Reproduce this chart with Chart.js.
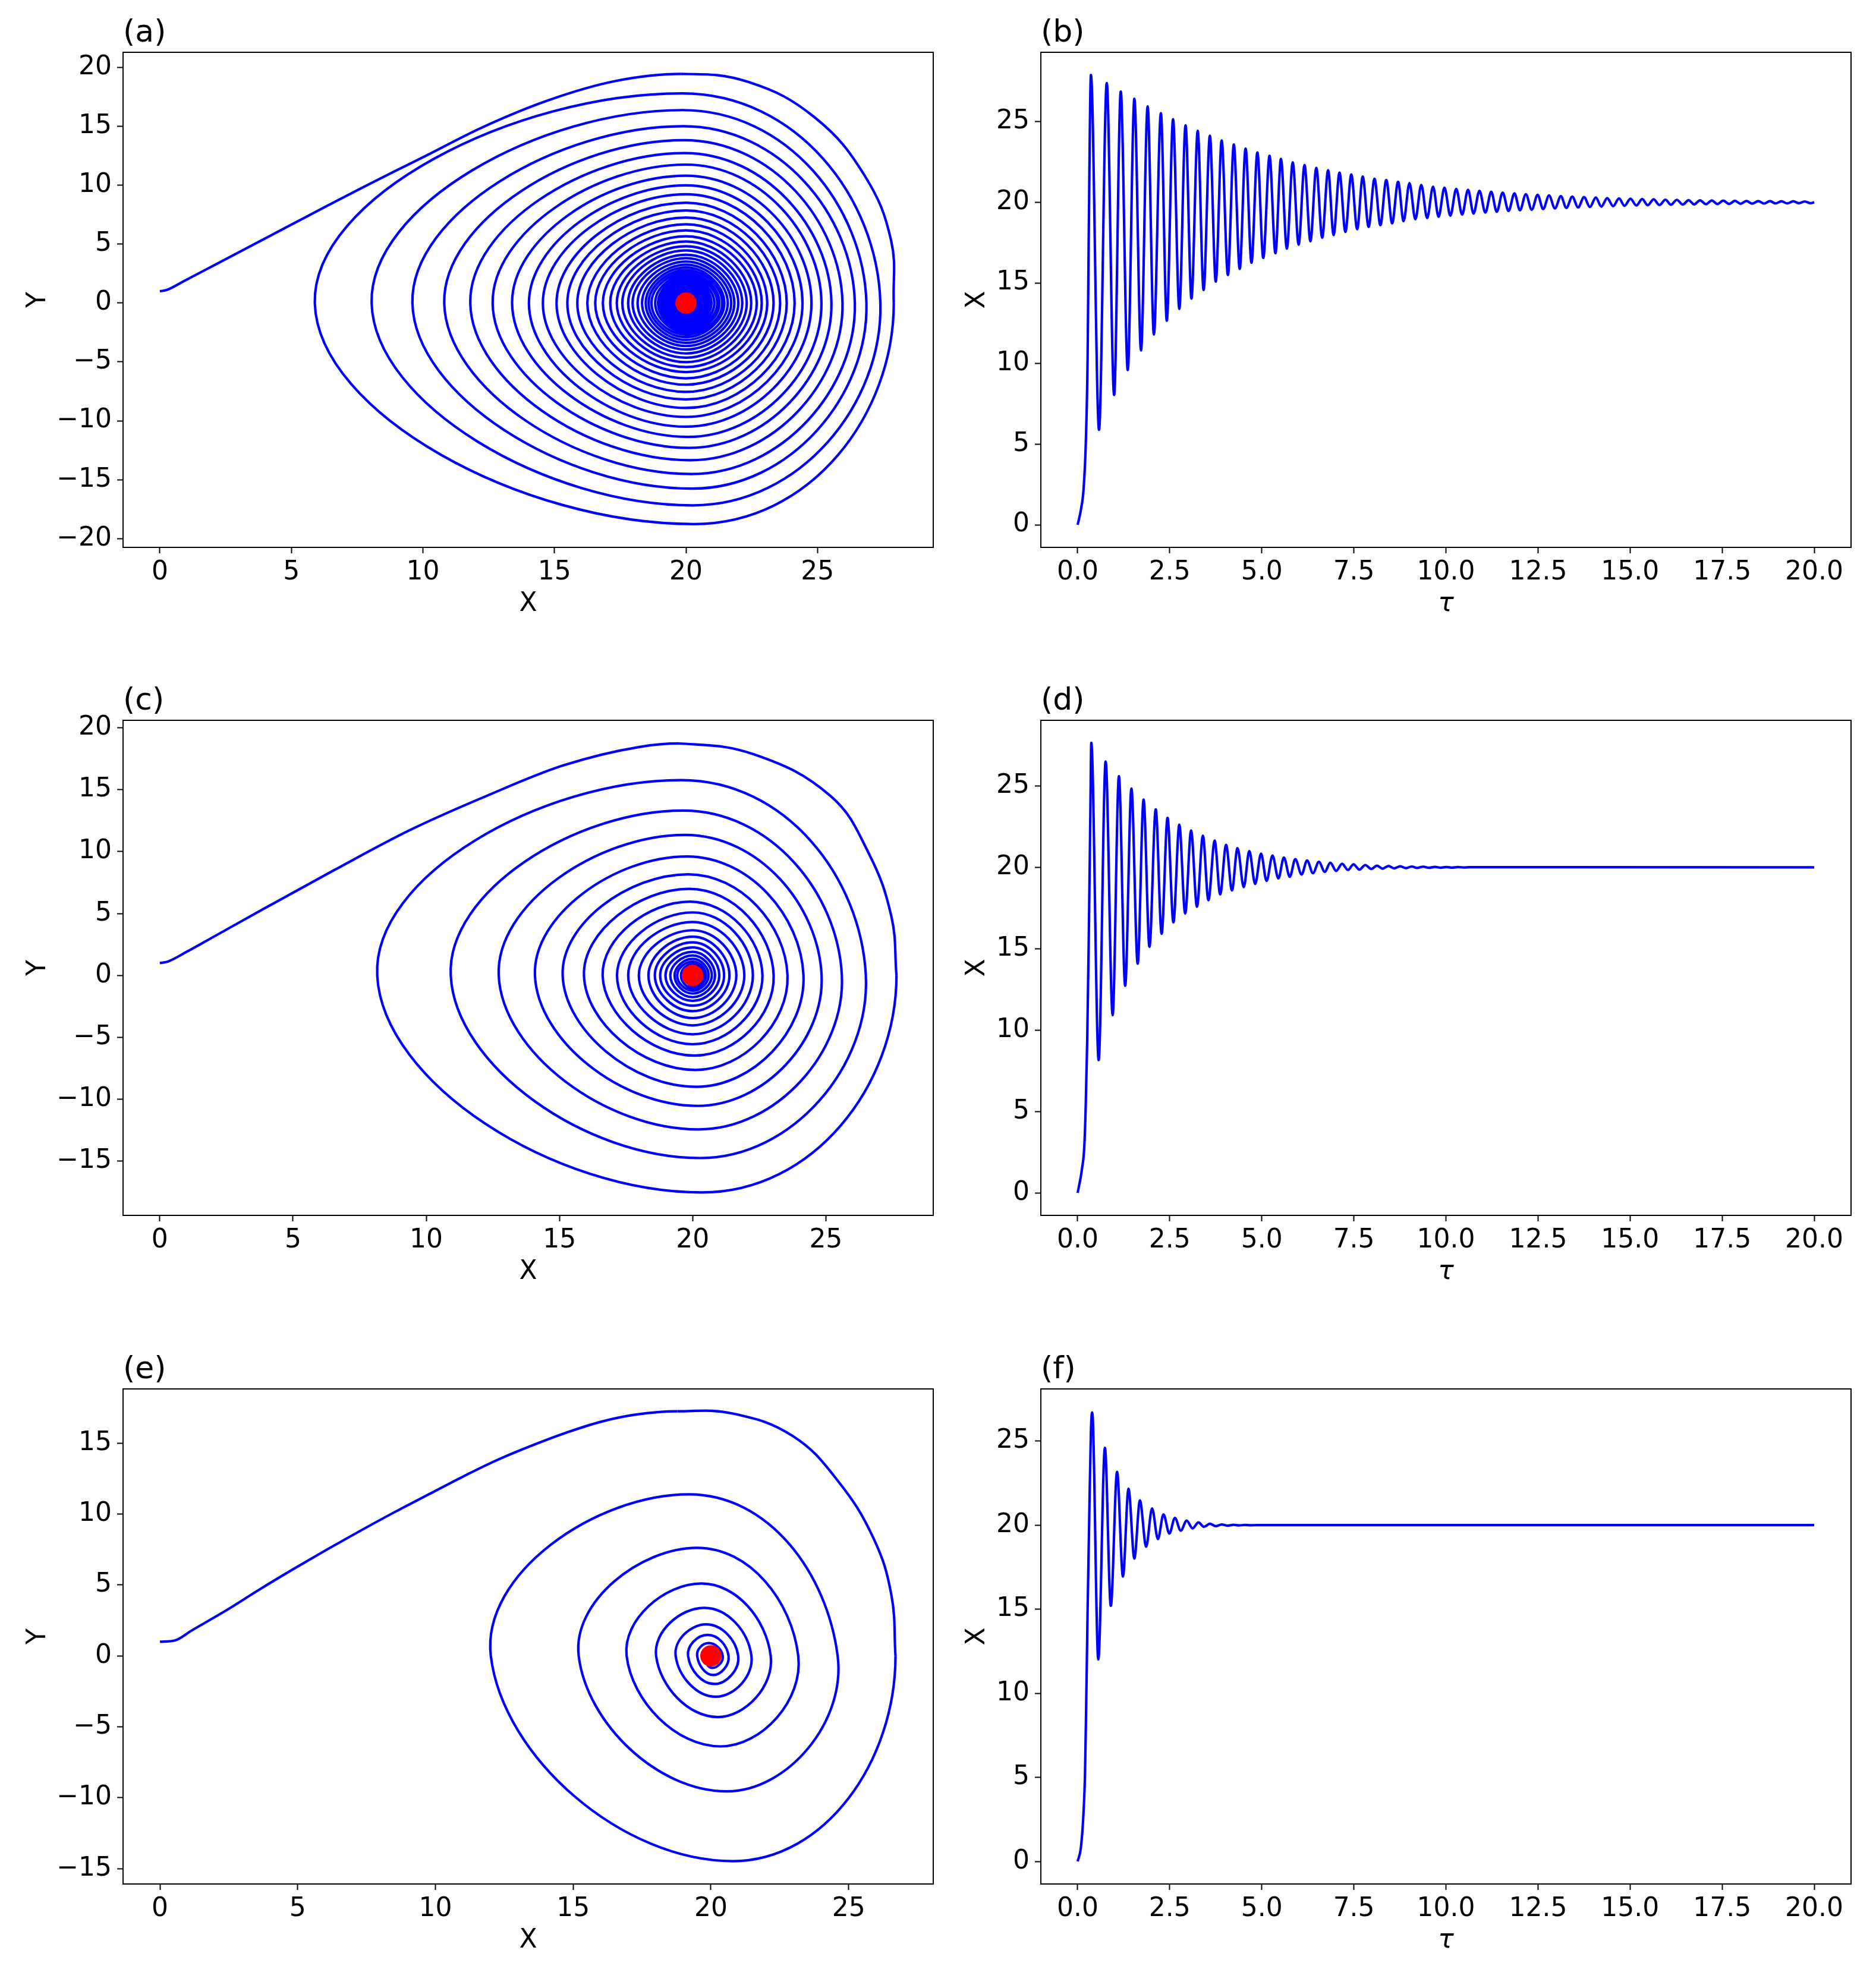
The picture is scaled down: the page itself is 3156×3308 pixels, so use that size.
<!DOCTYPE html>
<html>
<head>
<meta charset="utf-8">
<script src="https://cdn.jsdelivr.net/npm/chart.js@4.4.1/dist/chart.umd.min.js"></script>
<style>
html, body { margin: 0; padding: 0; background: #fff; }
#fig { position: relative; width: 3156px; height: 3308px; background: #fff; overflow: hidden; }
#fig canvas { position: absolute; }
</style>
</head>
<body>
<div id="fig"></div>
<script>
// Datos
const fixedPoint = [20, 0]
const tauEnd = 20

// tick labels
const phaseTicksX = [0, 5, 10, 15, 20, 25]
const phaseTicksYa = [-20, -15, -10, -5, 0, 5, 10, 15, 20]
const phaseTicksYc = [-15, -10, -5, 0, 5, 10, 15, 20]
const phaseTicksYe = [-15, -10, -5, 0, 5, 10, 15]
const tauTicks = [0, 2.5, 5, 7.5, 10, 12.5, 15, 17.5, 20]
const seriesTicksY = [0, 5, 10, 15, 20, 25]

// ---- corrida 1: paneles (a) y (b) ----
const riseTau1 = [0, 0.09, 0.16, 0.22, 0.27, 0.30]
const riseX1 = [0, 0.95, 2.2, 5.0, 10.3, 17.7]
const peakTau1 = [0.36, 0.79, 1.17, 1.54, 1.90, 2.26, 2.59, 2.93, 3.26, 3.59, 3.91, 4.24, 4.56, 4.88, 5.21, 5.52, 5.84, 6.16, 6.48, 6.80, 7.11, 7.43, 7.74, 8.06, 8.38, 8.70, 9.01, 9.33, 9.65, 9.96, 10.28, 10.60, 10.91, 11.23, 11.54, 11.86, 12.17, 12.49, 12.80, 13.12, 13.43, 13.75, 14.07, 14.38, 14.70, 15.01, 15.33, 15.64, 15.96, 16.27, 16.59, 16.90, 17.22, 17.53, 17.85, 18.16, 18.48, 18.80, 19.11, 19.43, 19.74]
const peakX1 = [27.9, 27.39, 26.86, 26.42, 25.95, 25.53, 25.15, 24.77, 24.43, 24.13, 23.83, 23.58, 23.33, 23.09, 22.88, 22.69, 22.48, 22.31, 22.14, 21.99, 21.84, 21.72, 21.59, 21.46, 21.38, 21.27, 21.19, 21.08, 20.97, 20.90, 20.83, 20.77, 20.71, 20.65, 20.60, 20.55, 20.50, 20.46, 20.42, 20.38, 20.35, 20.32, 20.29, 20.26, 20.24, 20.22, 20.20, 20.18, 20.16, 20.15, 20.13, 20.12, 20.11, 20.10, 20.09, 20.08, 20.07, 20.07, 20.06, 20.06, 20.05]
const troughTau1 = [0.58, 0.99, 1.36, 1.72, 2.07, 2.42, 2.76, 3.09, 3.42, 3.75, 4.08, 4.40, 4.72, 5.04, 5.37, 5.68, 6.00, 6.32, 6.64, 6.95, 7.27, 7.59, 7.90, 8.22, 8.54, 8.85, 9.17, 9.49, 9.80, 10.12, 10.44, 10.75, 11.07, 11.38, 11.70, 12.01, 12.33, 12.64, 12.96, 13.27, 13.59, 13.91, 14.22, 14.54, 14.85, 15.17, 15.48, 15.80, 16.11, 16.43, 16.74, 17.06, 17.37, 17.69, 18.00, 18.32, 18.64, 18.95, 19.27, 19.59, 19.90]
const troughX1 = [5.89, 8.05, 9.60, 10.81, 11.80, 12.65, 13.39, 14.03, 14.56, 15.08, 15.49, 15.87, 16.25, 16.55, 16.84, 17.12, 17.37, 17.58, 17.80, 17.97, 18.16, 18.33, 18.47, 18.58, 18.69, 18.83, 18.94, 19.02, 19.10, 19.17, 19.24, 19.30, 19.36, 19.41, 19.46, 19.50, 19.54, 19.58, 19.62, 19.65, 19.68, 19.71, 19.73, 19.76, 19.78, 19.80, 19.82, 19.83, 19.85, 19.86, 19.87, 19.88, 19.89, 19.90, 19.91, 19.915, 19.92, 19.93, 19.93, 19.94, 19.94]
const startX1 = [0, 0.27, 0.9, 2.05, 3.2, 4.35, 5.5, 6.65, 7.8, 8.95, 10.1, 12.28, 14.8, 17.3, 19.8, 22.38, 24.9, 26.8, 27.8]
const startY1 = [1, 1.12, 1.85, 3.2, 4.55, 5.9, 7.25, 8.6, 9.92, 11.22, 12.5, 14.95, 17.25, 18.85, 19.46, 18.77, 15.76, 10.8, 5.3]
const topY1 = [19.46, 17.81, 16.39, 15.02, 13.84, 12.74, 11.76, 10.82, 10.00, 9.24, 8.52, 7.87, 7.26, 6.69, 6.17, 5.67, 5.23, 4.82, 4.47, 4.11, 3.81, 3.52, 3.26, 3.02, 2.79, 2.58, 2.39, 2.21, 2.04, 1.89, 1.75, 1.62, 1.50, 1.39, 1.28, 1.19, 1.10, 1.02, 0.94, 0.87, 0.80, 0.74]
const topX1 = [19.8, 19.85, 19.87, 19.9, 19.92, 19.94]
const bottomY1 = [-18.77, -17.18, -15.76, -14.52, -13.35, -12.30, -11.37, -10.50, -9.67, -8.91, -8.19, -7.54, -6.93, -6.39, -5.86, -5.44, -5.02, -4.64, -4.28, -3.95, -3.65, -3.38, -3.13, -2.89, -2.67, -2.47, -2.29, -2.12, -1.96, -1.81, -1.68, -1.55, -1.44, -1.33, -1.23, -1.14, -1.05, -0.97, -0.90, -0.83, -0.77, -0.71]
const bottomX1 = [20.3, 20.27, 20.24, 20.2, 20.16, 20.12, 20.08]

// ---- corrida 2: paneles (c) y (d) ----
const riseTau2 = [0, 0.115, 0.18, 0.22, 0.26, 0.30, 0.345]
const riseX2 = [0, 1.44, 2.84, 5.44, 9.44, 15.4, 23.4]
const peakTau2 = [0.37, 0.76, 1.12, 1.46, 1.79, 2.12, 2.44, 2.76, 3.08, 3.40, 3.72, 4.03, 4.34, 4.66, 4.98, 5.29, 5.60, 5.91, 6.23, 6.55, 6.86, 7.18, 7.49, 7.81, 8.13, 8.44, 8.76, 9.07, 9.38, 9.70, 10.01, 10.33, 10.64]
const peakX2 = [27.65, 26.5, 25.6, 24.84, 24.16, 23.56, 23.04, 22.62, 22.26, 21.94, 21.64, 21.38, 21.18, 21.0, 20.84, 20.72, 20.60, 20.50, 20.42, 20.34, 20.28, 20.22, 20.18, 20.14, 20.10, 20.08, 20.06, 20.05, 20.04, 20.03, 20.02, 20.015, 20.01]
const troughTau2 = [0.57, 0.95, 1.29, 1.63, 1.95, 2.28, 2.60, 2.92, 3.24, 3.55, 3.87, 4.19, 4.51, 4.82, 5.13, 5.45, 5.76, 6.08, 6.39, 6.71, 7.02, 7.34, 7.65, 7.97, 8.28, 8.59, 8.91, 9.22, 9.54, 9.85, 10.17, 10.49]
const troughX2 = [8.16, 10.92, 12.72, 14.08, 15.12, 15.92, 16.62, 17.16, 17.58, 17.98, 18.34, 18.58, 18.78, 18.98, 19.16, 19.32, 19.42, 19.56, 19.64, 19.72, 19.78, 19.84, 19.86, 19.90, 19.92, 19.94, 19.95, 19.96, 19.97, 19.975, 19.98, 19.99]
const startX2 = [0, 0.3, 1.0, 2.0, 4.0, 6.54, 9.4, 12.27, 15.13, 18.0, 19.5, 22.3, 25.17, 26.6, 27.46]
const startY2 = [1, 1.12, 1.9, 3.1, 5.5, 8.5, 11.75, 14.5, 16.95, 18.45, 18.73, 17.85, 14.5, 9.9, 4.75]
const topY2 = [18.73, 15.77, 13.31, 11.35, 9.61, 8.17, 6.99, 5.96, 5.09, 4.32, 3.65, 3.13, 2.67, 2.26, 1.90, 1.62, 1.34, 1.12, 0.94]
const topX2 = [19.5, 19.57, 19.64, 19.71, 19.78, 19.83, 19.87, 19.9]
const bottomY2 = [-17.52, -14.74, -12.43, -10.53, -8.99, -7.63, -6.47, -5.55, -4.75, -4.03, -3.44, -2.88, -2.44, -2.05, -1.75, -1.46, -1.23, -1.03, -0.86]
const bottomX2 = [20.36, 20.29, 20.22, 20.18, 20.14, 20.1, 20.07]

// ---- corrida 3: paneles (e) y (f) ----
const riseTau3 = [0, 0.086, 0.15, 0.2, 0.23, 0.27, 0.316, 0.36]
const riseX3 = [0, 0.8, 2.55, 5.26, 9.1, 14.9, 20.7, 25.6]
const peakTau3 = [0.395, 0.74, 1.07, 1.38, 1.69, 2.02, 2.33, 2.64, 2.96, 3.28, 3.59, 3.91, 4.23, 4.54, 4.86]
const peakX3 = [26.7, 24.6, 23.17, 22.17, 21.47, 20.99, 20.64, 20.43, 20.27, 20.16, 20.08, 20.04, 20.02, 20.01, 20.005]
const troughTau3 = [0.56, 0.90, 1.23, 1.54, 1.86, 2.18, 2.49, 2.80, 3.12, 3.43, 3.75, 4.07, 4.38, 4.70]
const troughX3 = [12.01, 15.2, 16.94, 18.01, 18.72, 19.17, 19.5, 19.67, 19.81, 19.9, 19.94, 19.97, 19.985, 19.99]
const startX3 = [0, 0.54, 1.16, 2.40, 3.63, 4.87, 6.11, 7.35, 8.58, 9.82, 11.06, 12.29, 13.53, 14.77, 16.0, 17.24, 18.78, 20.8, 22.97, 24.6, 25.9, 26.55]
const startY3 = [1, 1.09, 1.8, 3.2, 4.7, 6.15, 7.55, 8.9, 10.2, 11.45, 12.7, 13.85, 14.85, 15.75, 16.5, 17.0, 17.24, 17.08, 15.5, 12.36, 8.3, 4.3]
const topY3 = [17.24, 11.39, 7.62, 5.10, 3.39, 2.22, 1.48, 0.9]
const topX3 = [18.78, 19.2, 19.5, 19.65, 19.75, 19.82, 19.88, 19.92]
const bottomY3 = [-14.47, -9.55, -6.38, -4.31, -2.88, -1.98, -1.35, -0.85]
const bottomX3 = [20.8, 20.58, 20.35, 20.25, 20.18, 20.12, 20.08, 20.05]

// Tramo inicial en el plano de fase, hasta el primer maximo de X.
// Se parte en dos: subida (hasta el tope) y bajada (del tope al maximo).
// Cada parte lleva un punto extra del otro lado, con ese tramo oculto,
// para que la tangente en el tope quede horizontal.
function tramoInicial(startX, startY, peakX) {
    const pts = startX.map((x, i) => ({ x: x, y: startY[i] }))
    pts.push({ x: peakX[0], y: 0 })
    const k = startY.indexOf(Math.max(...startY))
    return { subida: pts.slice(0, k + 2), bajada: pts.slice(k - 1), k: k }
}

// Lazos de la espiral: tope, maximo, fondo, minimo.
// El primer tope ya esta dibujado por el tramo inicial: ese tramo se oculta
// y el punto solo sirve para que la tangente en el primer maximo sea vertical.
function lazos(peakX, troughX, topX, topY, bottomX, bottomY) {
    const pts = []
    for (let i = 0; i < bottomY.length; i++) {
        const xb = bottomX[i] !== undefined ? bottomX[i] : fixedPoint[0]
        const xt = i === 0 ? xb : (topX[i] !== undefined ? topX[i] : fixedPoint[0])
        pts.push({ x: xt, y: topY[i] })
        pts.push({ x: peakX[i], y: 0 })
        pts.push({ x: xb, y: bottomY[i] })
        pts.push({ x: troughX[i], y: 0 })
    }
    return pts
}

// Serie temporal X(tau) a partir de maximos y minimos
function serieTemporal(riseTau, riseX, peakTau, peakX, troughTau, troughX) {
    const pts = riseTau.map((t, i) => ({ x: t, y: riseX[i] }))
    for (let i = 0; i < peakTau.length; i++) {
        pts.push({ x: peakTau[i], y: peakX[i] })
        if (i < troughTau.length) pts.push({ x: troughTau[i], y: troughX[i] })
    }
    pts.push({ x: tauEnd, y: fixedPoint[0] })
    return pts
}

const menos = v => (v < 0 ? '\u2212' : '') + Math.abs(v)
const unDecimal = v => v.toFixed(1)

const panels = [
    { label: '(a)', area: [207, 88, 1570, 921], kind: 'fase', xr: [-1.4, 29.4], yr: [-20.75, 21.3], xt: phaseTicksX, yt: phaseTicksYa,
      inicio: tramoInicial(startX1, startY1, peakX1),
      data: lazos(peakX1, troughX1, topX1, topY1, bottomX1, bottomY1) },
    { label: '(b)', area: [1751, 88, 3114, 921], kind: 'serie', xr: [-1, 21], yr: [-1.4, 29.3], xt: tauTicks, yt: seriesTicksY,
      data: serieTemporal(riseTau1, riseX1, peakTau1, peakX1, troughTau1, troughX1) },
    { label: '(c)', area: [207, 1212, 1570, 2045], kind: 'fase', xr: [-1.38, 29.03], yr: [-19.37, 20.6], xt: phaseTicksX, yt: phaseTicksYc,
      inicio: tramoInicial(startX2, startY2, peakX2),
      data: lazos(peakX2, troughX2, topX2, topY2, bottomX2, bottomY2) },
    { label: '(d)', area: [1751, 1212, 3114, 2045], kind: 'serie', xr: [-1, 21], yr: [-1.38, 29.03], xt: tauTicks, yt: seriesTicksY,
      data: serieTemporal(riseTau2, riseX2, peakTau2, peakX2, troughTau2, troughX2) },
    { label: '(e)', area: [207, 2337, 1570, 3170], kind: 'fase', xr: [-1.34, 28.07], yr: [-16.08, 18.82], xt: phaseTicksX, yt: phaseTicksYe,
      inicio: tramoInicial(startX3, startY3, peakX3),
      data: lazos(peakX3, troughX3, topX3, topY3, bottomX3, bottomY3) },
    { label: '(f)', area: [1751, 2337, 3114, 3170], kind: 'serie', xr: [-1, 21], yr: [-1.34, 28.1], xt: tauTicks, yt: seriesTicksY,
      data: serieTemporal(riseTau3, riseX3, peakTau3, peakX3, troughTau3, troughX3) }
]

// Marco, titulos de panel y de ejes
const decoracion = {
    id: 'decoracion',
    afterDraw(chart, args, o) {
        const ctx = chart.ctx
        const a = chart.chartArea
        ctx.save()
        ctx.strokeStyle = '#000'
        ctx.lineWidth = 2
        ctx.strokeRect(a.left, a.top, a.right - a.left, a.bottom - a.top)
        ctx.fillStyle = '#000'
        ctx.textBaseline = 'alphabetic'
        ctx.textAlign = 'left'
        ctx.font = '52px "DejaVu Sans"'
        ctx.fillText(o.label, a.left, a.top - 18)
        ctx.textAlign = 'center'
        ctx.font = (o.xItalic ? 'italic ' : '') + '44px "DejaVu Sans"'
        ctx.fillText(o.xTitle, (a.left + a.right) / 2, a.bottom + 107)
        ctx.font = '44px "DejaVu Sans"'
        ctx.translate(a.left - o.yTitleOffset, (a.top + a.bottom) / 2)
        ctx.rotate(-Math.PI / 2)
        ctx.fillText(o.yTitle, 0, 0)
        ctx.restore()
    }
}

Chart.defaults.font.family = '"DejaVu Sans", sans-serif'
Chart.defaults.font.size = 44
Chart.defaults.color = '#000'

const PAD_IZQ = 200, PAD_SUP = 88, PAD_DER = 30, PAD_INF = 130
const AZUL = '#0000ff'
const OCULTO = 'rgba(0,0,0,0)'
const fig = document.querySelector('#fig')

function eje(rango, ticks, formato, horizontal) {
    return {
        type: 'linear',
        min: rango[0],
        max: rango[1],
        afterBuildTicks: s => { s.ticks = ticks.map(v => ({ value: v })) },
        afterFit: s => { if (horizontal) s.height = PAD_INF; else s.width = PAD_IZQ },
        ticks: {
            callback: formato,
            autoSkip: false,
            maxRotation: 0,
            minRotation: 0,
            padding: horizontal ? 6 : 9,
            color: '#000',
            font: { size: 44 }
        },
        grid: {
            drawOnChartArea: false,
            drawTicks: true,
            tickLength: 10,
            tickWidth: 2,
            tickColor: '#000',
            color: '#000'
        },
        border: { display: false }
    }
}

const linea = {
    showLine: true,
    borderColor: AZUL,
    borderWidth: 4.2,
    borderJoinStyle: 'round',
    pointRadius: 0,
    order: 1
}

// oculta el tramo que empieza en el indice dado
const ocultarTramo = idx => ({ borderColor: c => c.p0DataIndex === idx ? OCULTO : undefined })

panels.forEach(p => {
    const [l, t, r, b] = p.area
    const canvas = document.createElement('canvas')
    canvas.width = (r - l) + PAD_IZQ + PAD_DER
    canvas.height = (b - t) + PAD_SUP + PAD_INF
    canvas.style.left = (l - PAD_IZQ) + 'px'
    canvas.style.top = (t - PAD_SUP) + 'px'
    fig.appendChild(canvas)

    const fase = p.kind === 'fase'
    let datasets
    if (fase) {
        datasets = [
            { ...linea, data: p.inicio.subida, cubicInterpolationMode: 'monotone', segment: ocultarTramo(p.inicio.k) },
            { ...linea, data: p.inicio.bajada, tension: 0.4, segment: ocultarTramo(0) },
            { ...linea, data: p.data, tension: 0.5, segment: ocultarTramo(0) },
            { data: [{ x: fixedPoint[0], y: fixedPoint[1] }], pointRadius: 18,
              pointBackgroundColor: '#ff0000', pointBorderWidth: 0, order: 0 }
        ]
    } else {
        datasets = [{ ...linea, data: p.data, cubicInterpolationMode: 'monotone' }]
    }

    new Chart(canvas.getContext('2d'), {
        type: 'scatter',
        data: { datasets: datasets },
        options: {
            responsive: false,
            animation: false,
            devicePixelRatio: 1,
            layout: { padding: { left: 0, top: PAD_SUP, right: PAD_DER, bottom: 0 } },
            plugins: {
                legend: { display: false },
                tooltip: { enabled: false },
                decoracion: {
                    label: p.label,
                    xTitle: fase ? 'X' : '\u03c4',
                    xItalic: !fase,
                    yTitle: fase ? 'Y' : 'X',
                    yTitleOffset: fase ? 131 : 95
                }
            },
            scales: {
                x: eje(p.xr, p.xt, fase ? menos : unDecimal, true),
                y: eje(p.yr, p.yt, menos, false)
            }
        },
        plugins: [decoracion]
    })
})
</script>
</body>
</html>
